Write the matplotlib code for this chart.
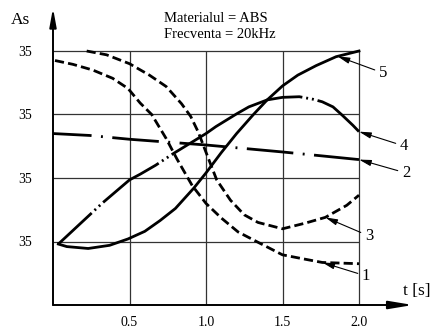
import numpy as np
import matplotlib.pyplot as plt

plt.rcParams['font.family'] = ['Liberation Serif', 'DejaVu Serif']

# valorile (axa y in unitati de grila)
t1 = [0.013, 0.13, 0.26, 0.39, 0.49, 0.57, 0.645, 0.74, 0.81, 0.91, 1.0, 1.1, 1.21, 1.33, 1.5, 1.65, 1.76, 2.0]
a1 = [3.85, 3.79, 3.70, 3.57, 3.41, 3.18, 3.0, 2.62, 2.30, 1.88, 1.60, 1.37, 1.15, 1.0, 0.79, 0.72, 0.67, 0.65]

t2 = [0.0, 0.24, 0.5, 1.0, 1.5, 2.0]
a2 = [2.70, 2.67, 2.61, 2.52, 2.41, 2.29]

t3 = [0.22, 0.35, 0.50, 0.63, 0.74, 0.84, 0.90, 0.95, 1.02, 1.07, 1.16, 1.25, 1.34, 1.5, 1.65, 1.78, 1.92, 2.0]
a3 = [4.0, 3.94, 3.80, 3.62, 3.44, 3.17, 2.97, 2.72, 2.28, 1.97, 1.65, 1.42, 1.30, 1.20, 1.29, 1.38, 1.57, 1.73]

t4 = [0.035, 0.24, 0.32, 0.5, 0.57, 0.67, 0.79, 1.0, 1.065, 1.2, 1.28, 1.4, 1.5, 1.61, 1.7, 1.76, 1.83, 1.89, 1.96, 2.0]
a4 = [0.96, 1.42, 1.60, 1.97, 2.06, 2.20, 2.39, 2.70, 2.81, 3.01, 3.12, 3.23, 3.27, 3.28, 3.24, 3.20, 3.12, 2.99, 2.83, 2.73]

t5 = [0.035, 0.09, 0.23, 0.37, 0.49, 0.6, 0.7, 0.8, 0.92, 1.0, 1.1, 1.2, 1.31, 1.4, 1.5, 1.6, 1.72, 1.85, 2.0]
a5 = [0.96, 0.92, 0.89, 0.94, 1.04, 1.16, 1.33, 1.52, 1.84, 2.08, 2.40, 2.70, 3.0, 3.23, 3.45, 3.62, 3.77, 3.91, 4.0]

yticks = [1, 2, 3, 4]
ylabels = ['35', '35', '35', '35']
xticks = [0.5, 1.0, 1.5, 2.0]
xlabels = ['0.5', '1.0', '1.5', '2.0']

# numerele curbelor si punctul (t) unde ajunge sageata
nume = ['1', '2', '3', '4', '5']
t_sageata = [1.76, 2.0, 1.78, 2.0, 1.86]

fig = plt.figure(figsize=(4.32, 3.33), dpi=100)
ax = fig.add_axes([53/432, 28/333, 360/432, 297/333])
ax.set_xlim(0, 360/153)
ax.set_ylim(0, 297/63.5)
for s in ax.spines.values():
    s.set_visible(False)

# grila
ax.hlines(yticks, 0, 2.0, color='0.2', lw=0.9)
ax.vlines(xticks, 0, 4, color='0.2', lw=0.9)

# axele cu sageti
ax.annotate('', xy=(360/153, 0), xytext=(0, 0),
            arrowprops=dict(arrowstyle='-|>,head_length=1.45,head_width=0.24', color='k',
                            lw=1.4, shrinkA=0, shrinkB=0, mutation_scale=10), annotation_clip=False)
ax.annotate('', xy=(0, 297/63.5), xytext=(0, 0),
            arrowprops=dict(arrowstyle='-|>,head_length=1.1,head_width=0.2', color='k',
                            lw=1.4, shrinkA=0, shrinkB=0, mutation_scale=10), annotation_clip=False)

lw = 2.0
ax.plot(t1, a1, color='k', lw=lw, ls=(0, (3.3, 1.5)))
ax.plot(t2, a2, color='k', lw=lw, ls=(2.9, (16.8, 3.4, 0.7, 3.4)))
ax.plot(t3, a3, color='k', lw=lw, ls=(0, (3.3, 1.5)))
gol = [1.4, 0.7, 1.4, 0.7, 1.4]
ax.plot(t4, a4, color='k', lw=lw,
        ls=(0, tuple([16.4] + gol + [24.6] + gol + [52.5] + gol + [110, 1])))
ax.plot(t5, a5, color='k', lw=lw)

ax.set_xticks(xticks, xlabels)
ax.set_yticks(yticks, ylabels)
ax.tick_params(length=0, labelsize=10)
ax.tick_params(axis='y', pad=15)
ax.tick_params(axis='x', pad=8)

# etichetele curbelor
curbe = [(t1, a1), (t2, a2), (t3, a3), (t4, a4), (t5, a5)]
poz_text = [(2.046, 0.457), (2.307, 2.079), (2.065, 1.087), (2.294, 2.504), (2.157, 3.654)]
for n, (tt, aa), ts, pt in zip(nume, curbe, t_sageata, poz_text):
    ax.annotate(n, xy=(ts, np.interp(ts, tt, aa)), xytext=pt, ha='center', va='center',
                fontsize=12, annotation_clip=False,
                arrowprops=dict(arrowstyle='-|>,head_length=0.6,head_width=0.15', color='k',
                                lw=0.8, shrinkA=1, shrinkB=0, mutation_scale=12))

fig.text(20/432, 1 - 20/333, 'As', fontsize=12.5, ha='center', va='center')
fig.text(417/432, 1 - 291/333, 't [s]', fontsize=12.5, ha='center', va='center')
fig.text(164/432, 1 - 18/333, 'Materialul = ABS', fontsize=10.5, ha='left', va='center')
fig.text(164/432, 1 - 35/333, 'Frecventa = 20kHz', fontsize=10.5, ha='left', va='center')

fig.savefig('out.png', dpi=100)
